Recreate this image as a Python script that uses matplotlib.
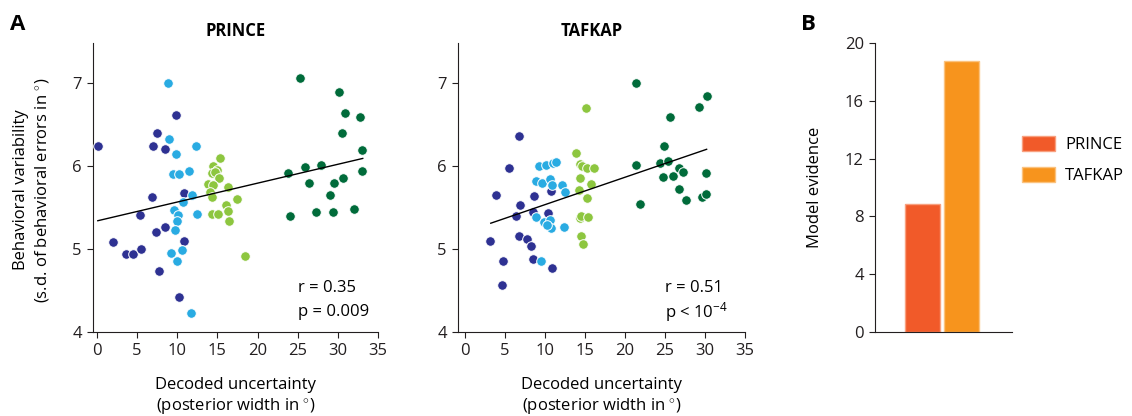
import matplotlib
matplotlib.use('Agg')
import matplotlib.pyplot as plt
from matplotlib.patches import Patch

plt.rcParams['font.family'] = ['Open Sans', 'DejaVu Sans']
plt.rcParams['mathtext.fontset'] = 'custom'
plt.rcParams['mathtext.rm'] = 'Open Sans'
plt.rcParams['mathtext.it'] = 'Open Sans:italic'
plt.rcParams['axes.linewidth'] = 0.8
plt.rcParams['axes.edgecolor'] = '#231F20'
plt.rcParams['xtick.color'] = '#231F20'
plt.rcParams['ytick.color'] = '#231F20'

# group colours
NAVY = '#2E3192'
SKY = '#29ABE2'
LIME = '#8DC63F'
FOREST = '#006B3A'

# ---- PRINCE (panel A, left) ----
prince_navy_x = [9.84, 7.51, 0.16, 6.94, 8.43, 6.85, 10.80, 5.39, 7.38, 8.47, 2.03, 10.87, 3.61, 4.52, 5.52, 7.72, 10.25]
prince_navy_y = [6.61, 6.40, 6.24, 6.24, 6.20, 5.63, 5.67, 5.41, 5.21, 5.26, 5.08, 5.10, 4.94, 4.94, 5.00, 4.74, 4.42]
prince_sky_x = [8.80, 8.93, 9.88, 12.37, 11.49, 9.43, 10.25, 11.89, 10.75, 9.63, 10.12, 9.93, 12.45, 9.71, 10.62, 9.18, 10.02, 11.71]
prince_sky_y = [7.00, 6.33, 6.14, 6.24, 5.94, 5.90, 5.90, 5.65, 5.56, 5.47, 5.41, 5.34, 5.42, 5.23, 4.99, 4.95, 4.85, 4.23]
prince_lime_x = [15.32, 14.41, 14.98, 14.28, 14.69, 15.19, 13.79, 14.48, 16.31, 14.07, 14.28, 17.40, 16.06, 16.28, 16.44, 14.36, 15.03, 18.49]
prince_lime_y = [6.10, 6.00, 5.95, 5.92, 5.93, 5.86, 5.78, 5.77, 5.75, 5.68, 5.63, 5.60, 5.53, 5.46, 5.34, 5.42, 5.42, 4.91]
prince_forest_x = [25.28, 30.17, 30.88, 32.75, 30.47, 33.04, 33.04, 23.79, 25.90, 27.90, 26.40, 29.51, 30.60, 29.02, 24.03, 27.31, 29.43, 32.00]
prince_forest_y = [7.06, 6.89, 6.64, 6.59, 6.40, 6.19, 5.94, 5.91, 5.99, 6.01, 5.79, 5.80, 5.86, 5.65, 5.40, 5.44, 5.44, 5.48]
prince_fit_x = [0.1, 33.1]
prince_fit_y = [5.34, 6.09]

# ---- TAFKAP (panel A, right) ----
tafkap_navy_x = [6.75, 5.50, 3.84, 8.66, 10.75, 6.91, 6.41, 8.46, 10.41, 3.16, 6.79, 7.79, 8.29, 4.79, 8.46, 10.91, 4.59]
tafkap_navy_y = [6.36, 5.98, 5.65, 5.64, 5.70, 5.53, 5.40, 5.44, 5.43, 5.09, 5.15, 5.12, 5.04, 4.85, 4.88, 4.77, 4.56]
tafkap_sky_x = [9.25, 10.16, 11.04, 11.31, 8.85, 9.63, 10.56, 10.84, 12.16, 12.54, 8.88, 9.88, 10.66, 10.73, 10.21, 12.38, 9.48]
tafkap_sky_y = [6.00, 6.01, 6.03, 6.05, 5.82, 5.79, 5.84, 5.77, 5.77, 5.68, 5.39, 5.32, 5.35, 5.25, 5.29, 5.26, 4.85]
tafkap_lime_x = [15.13, 13.85, 14.38, 14.56, 15.21, 16.15, 14.38, 15.73, 14.25, 15.21, 14.33, 14.50, 15.38, 14.50, 14.69]
tafkap_lime_y = [6.70, 6.15, 6.02, 6.00, 5.97, 5.97, 5.86, 5.78, 5.71, 5.61, 5.37, 5.40, 5.38, 5.15, 5.06]
tafkap_forest_x = [21.41, 30.21, 29.21, 25.63, 24.88, 21.41, 24.38, 25.33, 26.75, 27.29, 30.08, 24.79, 25.96, 26.79, 27.63, 29.58, 30.13, 21.91]
tafkap_forest_y = [7.00, 6.84, 6.71, 6.59, 6.24, 6.01, 6.03, 6.06, 5.97, 5.93, 5.92, 5.87, 5.88, 5.72, 5.59, 5.63, 5.66, 5.54]
tafkap_fit_x = [3.2, 30.2]
tafkap_fit_y = [5.31, 6.20]

# ---- panel B ----
models = ['PRINCE', 'TAFKAP']
evidence = [8.85, 18.77]
bar_colors = ['#F15A29', '#F7941D']
bar_edges = ['#F8A07F', '#FBC27E']

W, H = 1132, 416
fig = plt.figure(figsize=(W / 100, H / 100), dpi=100)

ax1 = fig.add_axes([93 / W, 84 / H, 285 / W, 289 / H])
ax2 = fig.add_axes([458 / W, 84 / H, 287 / W, 289 / H])
axB = fig.add_axes([875 / W, 84 / H, 137 / W, 289 / H])

panels = [
    (ax1, 'PRINCE', (-0.5, 35),
     [(prince_navy_x, prince_navy_y, NAVY), (prince_sky_x, prince_sky_y, SKY),
      (prince_lime_x, prince_lime_y, LIME), (prince_forest_x, prince_forest_y, FOREST)],
     prince_fit_x, prince_fit_y, 'r = 0.35', 'p = 0.009', 0.5),
    (ax2, 'TAFKAP', (-0.9, 35),
     [(tafkap_navy_x, tafkap_navy_y, NAVY), (tafkap_sky_x, tafkap_sky_y, SKY),
      (tafkap_lime_x, tafkap_lime_y, LIME), (tafkap_forest_x, tafkap_forest_y, FOREST)],
     tafkap_fit_x, tafkap_fit_y, 'r = 0.51', r'p < 10$^{-4}$', 0.465),
]

for ax, title, xlim, groups, fx, fy, rtxt, ptxt, tx in panels:
    for gx, gy, col in groups:
        ax.scatter(gx, gy, s=48, color=col, edgecolors='white', linewidths=0.7, zorder=3)
    ax.plot(fx, fy, color='black', linewidth=1.0, zorder=4)
    ax.set_xlim(*xlim)
    ax.set_ylim(4, 7.48)
    ax.set_xticks(range(0, 36, 5))
    ax.set_yticks([4, 5, 6, 7])
    ax.spines['top'].set_visible(False)
    ax.spines['right'].set_visible(False)
    ax.tick_params(direction='out', length=4, width=0.8, labelsize=12, pad=4)
    ax.set_xlabel('Decoded uncertainty\n(posterior width in $^{\\circ}$)', fontsize=12, labelpad=13)
    ax.text(tx, 1.012, title, transform=ax.transAxes, ha='center', va='bottom',
            fontsize=12, fontweight='bold')
    ax.text(0.72, 0.152, rtxt, transform=ax.transAxes, fontsize=12, va='center')
    ax.text(0.72, 0.07, ptxt, transform=ax.transAxes, fontsize=12, va='center')

fig.text(32 / W, 1 - 190 / H, 'Behavioral variability\n(s.d. of behavioral errors in $^{\\circ}$)',
         rotation=90, ha='center', va='center', fontsize=12, linespacing=1.25)

# bar chart
xpos = [0, 1]
axB.bar(xpos, evidence, width=0.88, color=bar_colors, edgecolor=bar_edges, linewidth=1.0)
axB.set_xlim(-1.21, 2.28)
axB.set_ylim(0, 20)
axB.set_yticks([0, 4, 8, 12, 16, 20])
axB.set_xticks([])
axB.spines['top'].set_visible(False)
axB.spines['right'].set_visible(False)
axB.tick_params(direction='out', length=4, width=0.8, labelsize=12, pad=4)
axB.set_ylabel('Model evidence', fontsize=12, labelpad=16)

handles = [Patch(facecolor=c, edgecolor=e, linewidth=1.0) for c, e in zip(bar_colors, bar_edges)]
fig.legend(handles, models, loc='center left', bbox_to_anchor=(1007 / W, 1 - 160 / H),
           frameon=False, fontsize=12, handlelength=2.0, handleheight=1.0,
           labelspacing=0.85, handletextpad=0.6)

fig.text(18 / W, 1 - 25 / H, 'A', fontsize=16, fontweight='bold', ha='center', va='center')
fig.text(808 / W, 1 - 25 / H, 'B', fontsize=16, fontweight='bold', ha='center', va='center')

fig.savefig('out.png', dpi=100)
